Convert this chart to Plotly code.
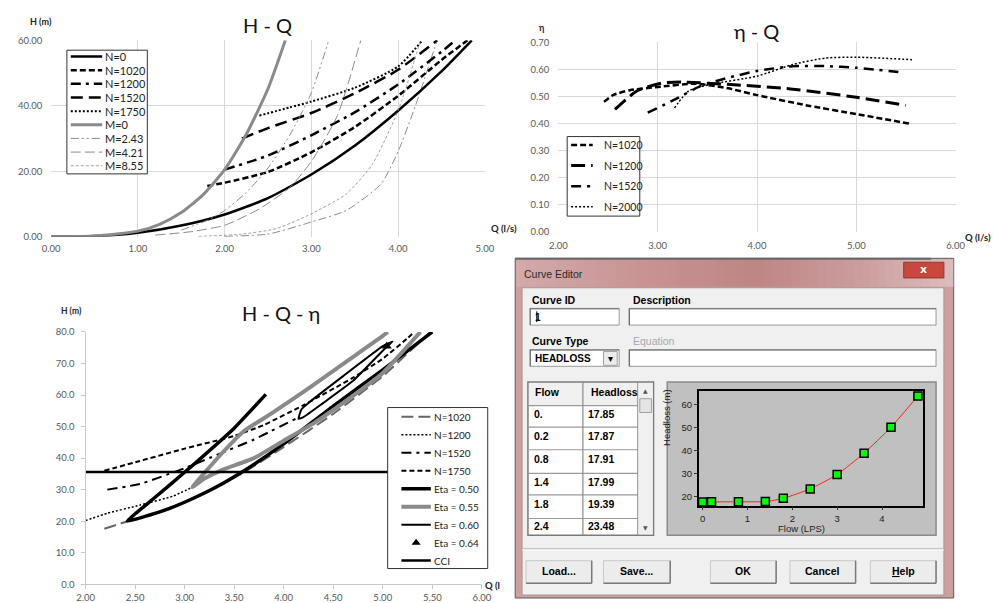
import plotly.graph_objects as go

W, H = 1000, 603
def fx(p): return p / W
def fy(p): return 1 - p / H

# ---------------- DATA ----------------
# Chart 1: H - Q
hq_n0_q = [0.0, 0.5, 1.0, 1.5, 2.0, 2.5, 3.0, 3.5, 4.0, 4.5, 4.85]
hq_n0_h = [0.0, 0.2, 1.2, 3.4, 6.8, 11.8, 19.0, 27.8, 38.5, 50.5, 60.0]
hq_n1020_q = [1.8, 2.0, 2.5, 3.0, 3.5, 4.0, 4.5, 4.8]
hq_n1020_h = [15.5, 16.5, 19.8, 25.8, 33.5, 43.0, 54.0, 60.0]
hq_n1200_q = [2.0, 2.5, 3.0, 3.5, 4.0, 4.5, 4.66]
hq_n1200_h = [20.5, 24.8, 31.0, 38.0, 46.5, 56.5, 60.0]
hq_n1520_q = [2.2, 2.5, 3.0, 3.5, 4.0, 4.45]
hq_n1520_h = [30.0, 33.2, 37.8, 43.8, 51.0, 60.0]
hq_n1750_q = [2.4, 2.75, 3.0, 3.5, 4.0, 4.28]
hq_n1750_h = [37.0, 39.5, 41.3, 45.5, 52.0, 60.0]
hq_m0_q = [0.0, 0.5, 1.0, 1.25, 1.5, 1.75, 2.0, 2.25, 2.5, 2.7]
hq_m0_h = [0.0, 0.2, 1.7, 3.8, 7.4, 12.8, 20.5, 31.3, 45.2, 60.0]
hq_m243_q = [1.5, 1.8, 2.0, 2.25, 2.5, 2.75, 3.0, 3.2]
hq_m243_h = [2.0, 5.0, 8.0, 13.5, 21.0, 31.0, 44.0, 60.0]
hq_m421_q = [1.2, 1.6, 2.0, 2.4, 2.75, 3.0, 3.3, 3.57]
hq_m421_h = [0.5, 1.5, 3.5, 8.5, 15.0, 23.0, 37.0, 60.0]
hq_m855_q = [1.7, 2.2, 2.6, 3.0, 3.4, 3.7, 4.0, 4.26]
hq_m855_h = [0.1, 0.8, 2.5, 7.0, 13.0, 22.0, 38.5, 60.0]
hq_mx_q = [2.0, 2.5, 3.0, 3.4, 3.8, 4.0, 4.2, 4.45]
hq_mx_h = [0.1, 0.8, 4.5, 8.0, 16.0, 26.0, 40.0, 60.0]

# Chart 2: eta - Q
eq_n1020_q = [2.46, 2.55, 2.72, 3.0, 3.38, 3.71, 4.0, 4.53, 5.0, 5.53]
eq_n1020_e = [0.48, 0.505, 0.523, 0.535, 0.547, 0.53, 0.505, 0.465, 0.435, 0.40]
eq_n1200_q = [2.57, 2.79, 3.05, 3.25, 3.7, 4.36, 5.0, 5.5]
eq_n1200_e = [0.452, 0.52, 0.55, 0.553, 0.545, 0.527, 0.497, 0.467]
eq_n1520_q = [2.90, 3.18, 3.44, 3.71, 4.0, 4.36, 4.69, 5.0, 5.48]
eq_n1520_e = [0.44, 0.49, 0.54, 0.569, 0.594, 0.612, 0.612, 0.606, 0.588]
eq_n2000_q = [3.17, 3.31, 3.54, 4.0, 4.36, 4.69, 5.0, 5.56]
eq_n2000_e = [0.458, 0.52, 0.545, 0.575, 0.618, 0.642, 0.645, 0.636]

# Chart 3: H - Q - eta
hqe_n1020_q = [2.19, 2.42, 2.71, 3.0, 3.3, 3.6, 4.0, 4.5, 5.0, 5.48]
hqe_n1020_h = [17.6, 19.9, 22.5, 26.1, 30.5, 35.5, 43.5, 54.0, 66.0, 80.0]
hqe_n1200_q = [2.0, 2.22, 2.55, 2.88, 3.08]
hqe_n1200_h = [20.2, 22.5, 25.1, 27.9, 30.8]
hqe_n1520_q = [2.22, 2.55, 3.0, 3.34, 3.7, 4.13]
hqe_n1520_h = [30.0, 31.8, 36.8, 41.2, 45.9, 52.6]
hqe_n1750_q = [2.19, 2.55, 3.0, 3.5, 3.8, 4.2, 4.7, 5.0, 5.25, 5.32]
hqe_n1750_h = [36.0, 39.1, 43.0, 47.0, 50.5, 56.8, 65.5, 71.5, 78.0, 80.0]
eta50_q = [3.82, 3.5, 3.0, 2.7, 2.42, 2.6, 2.8, 3.0, 3.3, 3.6, 4.0, 4.5, 5.0, 5.5]
eta50_h = [60.2, 49.5, 35.5, 27.5, 20.0, 21.5, 23.5, 26.0, 30.5, 36.0, 44.5, 56.5, 68.0, 80.0]
eta55_q = [5.05, 4.99, 4.53, 4.2, 3.87, 3.6, 3.37, 3.08, 3.2, 3.4, 3.7, 4.0, 4.3, 4.6, 5.0, 5.38]
eta55_h = [80.0, 78.5, 68.3, 61.0, 54.0, 48.6, 41.3, 30.8, 33.5, 36.5, 40.0, 45.5, 51.0, 57.5, 67.0, 80.0]
eta60_q = [4.15, 4.18, 4.25, 4.6, 5.0, 5.1, 5.03, 4.7, 4.4, 4.2, 4.15]
eta60_h = [52.5, 55.5, 57.5, 66.0, 75.5, 77.0, 75.0, 64.5, 57.5, 53.0, 52.5]
eta64_q = [5.04]
eta64_h = [75.5]
cci_q = [2.0, 6.0]
cci_h = [35.6, 35.6]

# Curve editor table / mini chart
ce_flow = [0.0, 0.2, 0.8, 1.4, 1.8, 2.4, 3.0, 3.6, 4.2, 4.8]
ce_head = [17.85, 17.87, 17.91, 17.99, 19.39, 23.48, 29.7, 39.0, 50.2, 63.8]
ce_flow_txt = ["0.", "0.2", "0.8", "1.4", "1.8", "2.4"]
ce_head_txt = ["17.85", "17.87", "17.91", "17.99", "19.39", "23.48"]

# legend labels
leg1_names = ["N=0", "N=1020", "N=1200", "N=1520", "N=1750", "M=0", "M=2.43", "M=4.21", "M=8.55"]
leg2_names = ["N=1020", "N=1200", "N=1520", "N=2000"]
leg3_names = ["N=1020", "N=1200", "N=1520", "N=1750", "Eta = 0.50", "Eta = 0.55", "Eta = 0.60", "Eta = 0.64", "CCI"]

# ---------------- STYLES ----------------
BLK = "#000000"
GRY = "#8a8a8a"
sty1 = [
    dict(color=BLK, width=2.5, dash="solid"),
    dict(color=BLK, width=2.5, dash="6px,3px"),
    dict(color=BLK, width=2.5, dash="10px,5px,3px,5px"),
    dict(color=BLK, width=2.5, dash="12px,6px"),
    dict(color=BLK, width=2, dash="2px,2px"),
    dict(color=GRY, width=3, dash="solid"),
    dict(color=GRY, width=1, dash="8px,3px,2px,3px,2px,3px"),
    dict(color=GRY, width=1, dash="10px,4px"),
    dict(color=GRY, width=0.8, dash="3px,2px"),
]
sty2 = [
    dict(color=BLK, width=2.5, dash="6px,3px"),
    dict(color=BLK, width=3, dash="14px,6px"),
    dict(color=BLK, width=2.5, dash="10px,6px,3px,6px"),
    dict(color=BLK, width=1.5, dash="2px,2px"),
]
sty3 = [
    dict(color="#666666", width=2, dash="12px,5px"),
    dict(color=BLK, width=1.5, dash="2px,2px"),
    dict(color=BLK, width=2, dash="10px,5px,3px,5px"),
    dict(color=BLK, width=2, dash="5px,3px"),
    dict(color=BLK, width=3.5, dash="solid"),
    dict(color=GRY, width=4, dash="solid"),
    dict(color=BLK, width=2, dash="solid"),
    None,
    dict(color=BLK, width=2.5, dash="solid"),
]

fig = go.Figure()

def line(x, y, st, xa, ya, sm=0.6):
    fig.add_trace(go.Scatter(x=x, y=y, mode="lines", line=dict(st, shape="spline", smoothing=sm),
                             xaxis=xa, yaxis=ya, showlegend=False, hoverinfo="skip"))

# chart 1
series1 = [(hq_n0_q, hq_n0_h), (hq_n1020_q, hq_n1020_h), (hq_n1200_q, hq_n1200_h),
           (hq_n1520_q, hq_n1520_h), (hq_n1750_q, hq_n1750_h), (hq_m0_q, hq_m0_h),
           (hq_m243_q, hq_m243_h), (hq_m421_q, hq_m421_h), (hq_m855_q, hq_m855_h)]
line(hq_mx_q, hq_mx_h, dict(color=GRY, width=1, dash="8px,3px,2px,3px"), "x", "y")
for (q, h), st in zip(series1, sty1):
    line(q, h, st, "x", "y")

# chart 2
series2 = [(eq_n1020_q, eq_n1020_e), (eq_n1200_q, eq_n1200_e), (eq_n1520_q, eq_n1520_e), (eq_n2000_q, eq_n2000_e)]
for (q, e), st in zip(series2, sty2):
    line(q, e, st, "x2", "y2")

# chart 3
series3 = [(hqe_n1020_q, hqe_n1020_h), (hqe_n1200_q, hqe_n1200_h), (hqe_n1520_q, hqe_n1520_h),
           (hqe_n1750_q, hqe_n1750_h), (eta50_q, eta50_h), (eta55_q, eta55_h), (eta60_q, eta60_h)]
for (q, h), st in zip(series3, sty3[:7]):
    line(q, h, st, "x3", "y3", sm=0.4)
fig.add_trace(go.Scatter(x=cci_q, y=cci_h, mode="lines", line=sty3[8], xaxis="x3", yaxis="y3",
                         showlegend=False, hoverinfo="skip"))
fig.add_trace(go.Scatter(x=eta64_q, y=eta64_h, mode="markers", marker=dict(symbol="triangle-up", size=9, color=BLK),
                         xaxis="x3", yaxis="y3", showlegend=False, hoverinfo="skip"))

# mini chart in curve editor
fig.add_trace(go.Scatter(x=ce_flow, y=ce_head, mode="lines+markers",
                         line=dict(color="#ff2020", width=1, shape="spline", smoothing=0.5),
                         marker=dict(symbol="square", size=8, color="#00ff00", line=dict(color=BLK, width=1.5)),
                         xaxis="x4", yaxis="y4", showlegend=False, hoverinfo="skip", cliponaxis=False))

# ---------------- manual legends ----------------
annotations = []
def manual_legend(xa, ya, box, names, styles, sample, text_x, first, step, fsize):
    x0, x1, y0, y1 = box
    fig.add_trace(go.Scatter(x=[x0, x1, x1, x0, x0], y=[y0, y0, y1, y1, y0], mode="lines", fill="toself",
                             fillcolor="white", line=dict(color="#333333", width=1),
                             xaxis=xa, yaxis=ya, showlegend=False, hoverinfo="skip"))
    for i, (nm, st) in enumerate(zip(names, styles)):
        cy = first + i * step
        if st is None:
            fig.add_trace(go.Scatter(x=[(sample[0] + sample[1]) / 2], y=[cy], mode="markers",
                                     marker=dict(symbol="triangle-up", size=8, color=BLK),
                                     xaxis=xa, yaxis=ya, showlegend=False, hoverinfo="skip"))
        else:
            fig.add_trace(go.Scatter(x=list(sample), y=[cy, cy], mode="lines", line=st,
                                     xaxis=xa, yaxis=ya, showlegend=False, hoverinfo="skip"))
        annotations.append(dict(x=text_x, y=cy, xref=xa, yref=ya, text=nm, showarrow=False,
                                xanchor="left", yanchor="middle",
                                font=dict(family="Lato", size=fsize, color="#222222")))

manual_legend("x5", "y5", (59, 141, 45, 171), leg1_names, sty1, (63, 95), 96, 51.5, 13.9, 11)
manual_legend("x6", "y6", (569, 643, 133, 214), leg2_names, sty2, (573, 595), 604, 141.5, 21, 10.5)
manual_legend("x7", "y7", (386, 488, 409, 573), leg3_names, sty3, (400, 430), 431, 418.5, 18.3, 10)

# ---------------- axes ----------------
tick_font = dict(family="Lato", size=9.5, color="#595959")
grid = "#d9d9d9"
lay = dict(
    width=W, height=H, autosize=False, margin=dict(l=0, r=0, t=0, b=0),
    paper_bgcolor="white", plot_bgcolor="rgba(0,0,0,0)", showlegend=False,
    xaxis=dict(domain=[fx(43), fx(485)], range=[0, 5], dtick=1, tickformat=".2f", showgrid=True,
               gridcolor=grid, zeroline=False, showline=False, ticks="", tickfont=tick_font,
               ticklabelstandoff=5, anchor="y", fixedrange=True),
    yaxis=dict(domain=[fy(235), fy(35)], range=[0, 60], dtick=20, tickformat=".2f", showgrid=True,
               gridcolor=grid, zeroline=False, showline=False, ticks="", tickfont=tick_font,
               ticklabelstandoff=8, anchor="x", fixedrange=True),
    xaxis2=dict(domain=[fx(560), fx(965)], range=[2, 6], dtick=1, tickformat=".2f", showgrid=True,
                gridcolor=grid, zeroline=False, showline=False, ticks="", tickfont=tick_font,
                ticklabelstandoff=7, anchor="y2", fixedrange=True),
    yaxis2=dict(domain=[fy(230), fy(37)], range=[0, 0.7], dtick=0.1, tickformat=".2f", showgrid=True,
                gridcolor=grid, zeroline=False, showline=False, ticks="", tickfont=tick_font,
                ticklabelstandoff=8, anchor="x2", fixedrange=True),
    xaxis3=dict(domain=[fx(78), fx(482)], range=[2, 6], dtick=0.5, tickformat=".2f", showgrid=False,
                zeroline=False, showline=True, linecolor="#c8c8c8", ticks="outside", ticklen=4,
                tickcolor="#c8c8c8", tickfont=tick_font, anchor="y3", fixedrange=True),
    yaxis3=dict(domain=[fy(589), fy(332)], range=[0, 80], dtick=10, tickformat=".1f", showgrid=False,
                zeroline=False, showline=True, linecolor="#c8c8c8", ticks="outside", ticklen=4,
                tickcolor="#c8c8c8", tickfont=tick_font, ticklabelstandoff=4, anchor="x3", fixedrange=True),
    xaxis4=dict(domain=[fx(703), fx(932)], range=[-0.087, 4.92], dtick=1, showgrid=False, zeroline=False,
                showline=True, mirror=True, linecolor="#000000", linewidth=1.5, ticks="outside", ticklen=3,
                tickcolor="#333333", tickfont=dict(family="Liberation Sans", size=9.5, color="#222222"),
                anchor="y4", fixedrange=True),
    yaxis4=dict(domain=[fy(509), fy(392)], range=[16.2, 66], tick0=20, dtick=10, showgrid=False, zeroline=False,
                showline=True, mirror=True, linecolor="#000000", linewidth=1.5, ticks="outside", ticklen=3,
                tickcolor="#333333", tickfont=dict(family="Liberation Sans", size=9.5, color="#222222"),
                anchor="x4", fixedrange=True),
)
for xa, ya, box in [("xaxis5", "yaxis5", (59, 141, 45, 171)), ("xaxis6", "yaxis6", (569, 643, 133, 214)),
                    ("xaxis7", "yaxis7", (386, 488, 409, 573))]:
    x0, x1, y0, y1 = box
    lay[xa] = dict(domain=[fx(x0 - 2), fx(x1 + 2)], range=[x0 - 2, x1 + 2], visible=False, fixedrange=True,
                   anchor=ya.replace("axis", ""))
    lay[ya] = dict(domain=[fy(y1 + 2), fy(y0 - 2)], range=[y1 + 2, y0 - 2], visible=False, fixedrange=True,
                   anchor=xa.replace("axis", ""))
fig.update_layout(**lay)

# ---------------- texts of charts ----------------
def txt(x, y, s, size=10, color="#000000", family="Lato", anchor="center", bold=False, **kw):
    annotations.append(dict(x=fx(x), y=fy(y), xref="paper", yref="paper", text=s, showarrow=False,
                            xanchor=anchor, yanchor="middle",
                            font=dict(family=family, size=size, color=color, weight="bold" if bold else "normal"), **kw))

txt(263, 19, "H - Q", size=20, color="#111111")
txt(33, 16, "H (m)", size=9, bold=True, color="#222222")
txt(489, 227, "Q (l/s)", size=9.5, bold=True, color="#222222", anchor="left")
txt(762, 25, "η - Q", size=20, color="#111111")
txt(543, 22, "η", size=9, bold=True, color="#222222")
txt(972, 236, "Q (l/s)", size=9.5, bold=True, color="#222222", anchor="left")
txt(277, 313, "H - Q - η", size=20, color="#111111")
txt(64, 311, "H (m)", size=8.5, bold=True, color="#222222")
txt(483, 590, "Q (l", size=9.5, bold=True, color="#222222", anchor="left")

# ---------------- Curve editor dialog ----------------
shapes = []
def rect(x0, y0, x1, y1, fill, line_color=None, lw=1, layer="below"):
    shapes.append(dict(type="rect", xref="paper", yref="paper", x0=fx(x0), x1=fx(x1), y0=fy(y1), y1=fy(y0),
                       fillcolor=fill, line=dict(color=line_color or fill, width=lw if line_color else 0),
                       layer=layer))
def hline(x0, x1, y, color, lw=1):
    shapes.append(dict(type="line", xref="paper", yref="paper", x0=fx(x0), x1=fx(x1), y0=fy(y), y1=fy(y),
                       line=dict(color=color, width=lw), layer="below"))
def vline(x, y0, y1, color, lw=1):
    shapes.append(dict(type="line", xref="paper", yref="paper", x0=fx(x), x1=fx(x), y0=fy(y0), y1=fy(y1),
                       line=dict(color=color, width=lw), layer="below"))

def hexmix(c1, c2, t):
    a = [int(c1[i:i + 2], 16) for i in (1, 3, 5)]
    b = [int(c2[i:i + 2], 16) for i in (1, 3, 5)]
    return "#%02x%02x%02x" % tuple(round(a[k] + (b[k] - a[k]) * t) for k in range(3))

# window frame
rect(516, 257, 963, 603, "#cda0a0", "#5a5a5a", 1)
# title bar gradient (bands)
stops = [(517, "#d3aaaa"), (640, "#c99494"), (760, "#bf8585"), (870, "#cc9e9e"), (962, "#dcbdbd")]
for (xa_, ca), (xb_, cb) in zip(stops[:-1], stops[1:]):
    n = 12
    for k in range(n):
        t0 = xa_ + (xb_ - xa_) * k / n
        t1 = xa_ + (xb_ - xa_) * (k + 1) / n
        rect(t0, 258, t1 + 0.6, 286, hexmix(ca, cb, (k + 0.5) / n))
hline(516, 940, 257.5, "#666666", 2)
# close button
rect(912, 261, 953, 277, "#c9473c", "#8e3b35", 1)
txt(932, 268, "x", size=11, color="white", family="DejaVu Sans", bold=True)
txt(523, 273, "Curve Editor", size=10.5, color="#2a2a2a", family="Liberation Sans", anchor="left")
# client area
rect(523, 287, 953, 600, "#f0f0f0", "#b09090", 1)

dlg_font = "Liberation Sans"
txt(531, 299, "Curve ID", size=10.5, family=dlg_font, bold=True, anchor="left")
txt(634, 299, "Description", size=10.5, family=dlg_font, bold=True, anchor="left")
txt(531, 341, "Curve Type", size=10.5, family=dlg_font, bold=True, anchor="left")
txt(634, 341, "Equation", size=10.5, family=dlg_font, color="#a8a8a8", anchor="left")

def textbox(x0, y0, x1, y1):
    rect(x0, y0, x1, y1, "white", "#9a9a9a", 1)
    hline(x0, x1, y0 + 0.5, "#6a6a6a", 1)
    vline(x0 + 0.5, y0, y1, "#6a6a6a", 1)
textbox(531, 308, 622, 325)
textbox(632, 308, 945, 325)
textbox(531, 350, 622, 367)
textbox(632, 350, 945, 367)
txt(534, 317, "1", size=10, family=dlg_font, bold=True, anchor="left")
vline(538, 311, 322, "#000000", 1)
txt(534, 359, "HEADLOSS", size=10, family=dlg_font, bold=True, anchor="left")
rect(606, 352, 620, 366, "#ececec", "#a0a0a0", 1)
txt(613, 359, "▾", size=10, family="DejaVu Sans")

# table
rect(529, 383, 657, 539, "white", "#7a7a7a", 1.5)
rect(530, 384, 641, 407, "#f0f0f0")
for yy in [407, 429, 452, 476, 498, 522]:
    hline(529, 641, yy, "#9a9a9a", 1.2)
vline(585, 383, 539, "#8a8a8a", 1.2)
vline(641, 383, 539, "#8a8a8a", 1.2)
rect(641.5, 384, 656, 538, "#f0f0f0")
rect(643, 400, 655, 414, "#e4e4e4", "#a0a0a0", 1)
txt(649, 392, "▲", size=6, family="DejaVu Sans", color="#555555")
txt(649, 531, "▼", size=6, family="DejaVu Sans", color="#555555")
txt(534, 393, "Flow", size=10.5, family=dlg_font, bold=True, anchor="left")
txt(591, 393, "Headloss", size=10.5, family=dlg_font, bold=True, anchor="left")
row_y = [416, 438, 461, 485, 507, 530]
for fv, hv, ry in zip(ce_flow_txt, ce_head_txt, row_y):
    txt(533, ry, fv, size=10.5, family=dlg_font, bold=True, anchor="left")
    txt(588, ry, hv, size=10.5, family=dlg_font, bold=True, anchor="left")

# mini chart panel
rect(671, 383, 945, 539, "#c0c0c0", "#8a8a8a", 1.5)
txt(808, 532, "Flow (LPS)", size=9.5, family=dlg_font, color="#222222")
annotations.append(dict(x=fx(678), y=fy(450), xref="paper", yref="paper", text="Headloss (m)", showarrow=False,
                        textangle=-90, font=dict(family=dlg_font, size=9.5, color="#222222")))

# separator + buttons
hline(523, 953, 553, "#a8a8a8", 1)
hline(523, 953, 554, "#ffffff", 1)
def button(x0, x1, label):
    rect(x0, 565, x1, 588, "#ececec", "#c8c8c8", 1)
    hline(x0, x1, 588, "#7a7a7a", 1.5)
    vline(x1, 565, 588, "#7a7a7a", 1.5)
    txt((x0 + x1) / 2, 576, label, size=10.5, family=dlg_font, bold=True)
button(527, 594, "Load...")
button(606, 674, "Save...")
button(715, 782, "OK")
button(796, 863, "Cancel")
button(878, 945, "<u>H</u>elp")

fig.update_layout(annotations=annotations, shapes=shapes)
fig.write_html("out.html")
